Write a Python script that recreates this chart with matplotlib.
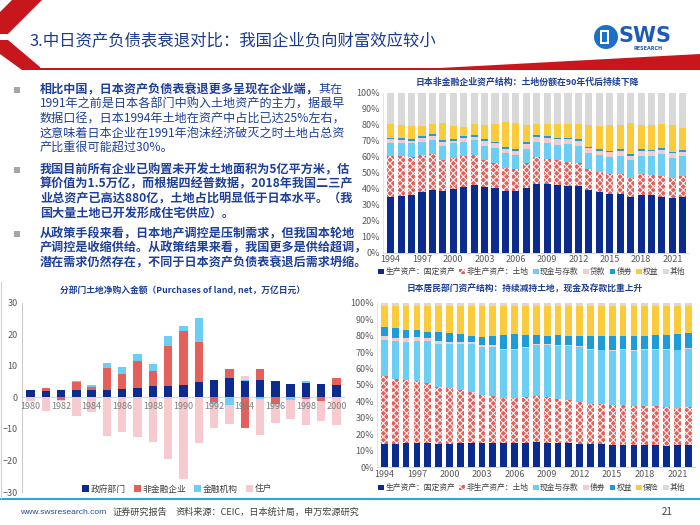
import matplotlib
matplotlib.use('Agg')
import matplotlib.pyplot as plt
from matplotlib.patches import Polygon, Rectangle, Circle
import numpy as np

plt.rcParams['font.family'] = ['Noto Sans CJK SC', 'DejaVu Sans']
plt.rcParams['hatch.linewidth'] = 0.7

# ---------------- data ----------------
# chart 1: net land purchases by sector (trillion yen)
land_years = list(range(1980, 2001))
gov = [2.2, 2.1, 2.4, 2.4, 2.4, 2.4, 2.6, 3.0, 3.5, 3.5, 4.0, 4.8, 5.5, 6.0, 5.3, 5.5, 5.2, 4.3, 4.5, 4.2, 3.8]
nonfin = [0, 1.0, -0.8, 2.6, 0.9, 7.0, 4.9, 8.6, 4.8, 12.7, 17.0, 12.6, -1.4, 3.0, -9.7, 3.6, -2.0, 0, -0.6, -1.0, 2.2]
fininst = [0, 0, 0, 0.3, 0.5, 1.6, 2.2, 2.1, 2.3, 3.2, 1.6, 7.8, -0.6, -2.3, 0.2, -0.5, 0, -0.8, 0.8, 0, 0]
household = [-1.0, -4.2, -0.3, -6.0, -4.8, -12.3, -11.0, -12.6, -14.3, -19.5, -26.0, -14.5, -7.8, -6.3, 1.2, -11.5, -6.0, -6.2, -8.3, -6.5, -8.8]
land_series_names = ['政府部门', '非金融企业', '金融机构', '住户']

# chart 2: Japan non-financial corporate asset structure (%)
struct_years = list(range(1994, 2023))
c_fixed = [34.8, 35.3, 36.0, 38.0, 39.3, 38.3, 39.8, 41.3, 42.2, 40.8, 40.3, 38.8, 38.3, 40.5, 43.2, 42.8, 42.2, 42.0, 41.7, 39.3, 38.0, 36.8, 36.8, 35.0, 36.0, 35.8, 35.0, 34.3, 35.0]
c_land = [25.7, 24.9, 24.0, 23.0, 22.7, 19.7, 19.4, 19.0, 18.6, 17.0, 16.0, 14.4, 14.2, 15.5, 16.8, 16.0, 15.6, 15.0, 14.1, 12.9, 12.2, 12.4, 12.7, 12.0, 13.2, 13.0, 13.2, 12.5, 12.8]
c_cash = [8.0, 8.3, 8.3, 8.5, 8.5, 9.0, 9.1, 9.0, 9.4, 9.2, 9.2, 9.1, 8.8, 8.8, 9.0, 9.7, 9.7, 10.8, 11.0, 10.1, 10.6, 10.6, 10.8, 11.0, 11.3, 11.4, 13.6, 12.4, 12.4]
c_loans = [2.3, 1.9, 1.8, 2.3, 2.3, 2.1, 1.8, 2.2, 2.4, 2.6, 2.8, 2.5, 2.5, 3.0, 3.1, 3.2, 3.4, 3.1, 3.1, 2.9, 3.0, 2.9, 3.3, 2.7, 3.2, 3.1, 2.5, 3.0, 3.0]
c_bonds = [1.2, 1.1, 1.1, 1.2, 1.2, 1.2, 1.1, 1.2, 1.2, 1.2, 1.2, 1.2, 1.2, 1.2, 1.2, 1.1, 1.1, 1.1, 1.1, 1.1, 1.0, 1.0, 1.1, 1.0, 1.0, 1.0, 1.0, 1.0, 1.0]
c_equity = [8.5, 8.5, 8.3, 6.0, 6.3, 10.9, 8.0, 6.1, 6.5, 9.2, 10.8, 15.8, 16.0, 11.0, 7.2, 7.5, 8.5, 8.3, 9.3, 13.5, 14.2, 16.1, 15.3, 19.3, 15.3, 15.7, 15.0, 16.8, 13.6]
c_other = [19.5, 20.0, 20.5, 21.0, 19.7, 18.8, 20.8, 21.2, 19.7, 20.0, 19.7, 18.2, 19.0, 20.0, 19.5, 19.7, 19.5, 19.7, 19.7, 20.2, 21.0, 20.2, 20.0, 19.0, 20.0, 20.0, 19.7, 20.0, 22.2]
corp_names = ['生产资产：固定资产', '非生产资产：土地', '现金与存款', '贷款', '债券', '权益', '其他']

# chart 3: Japan household asset structure (%)
h_fixed = [14.2, 14.2, 14.5, 14.6, 14.5, 14.2, 14.4, 14.6, 14.6, 14.7, 14.9, 14.6, 14.7, 14.9, 15.2, 14.9, 14.7, 14.6, 14.3, 14.1, 14.0, 13.8, 13.7, 13.5, 13.5, 13.4, 13.2, 13.5, 13.8]
h_land = [41.1, 39.6, 38.5, 37.7, 36.5, 34.8, 33.6, 32.4, 31.1, 29.1, 28.4, 27.2, 27.3, 27.9, 28.3, 27.6, 26.6, 26.2, 25.2, 24.2, 24.2, 24.0, 23.9, 23.5, 24.0, 23.8, 23.6, 22.7, 23.0]
h_cash = [22.2, 22.7, 23.3, 24.7, 26.0, 26.0, 26.8, 27.8, 29.3, 29.4, 29.9, 29.4, 29.0, 29.7, 30.7, 31.5, 32.2, 32.7, 33.3, 33.0, 32.8, 33.0, 33.6, 33.5, 33.8, 34.1, 34.7, 34.8, 35.0]
h_bonds = [2.5, 2.3, 2.0, 2.0, 1.5, 1.5, 1.2, 1.2, 1.2, 1.1, 1.0, 0.8, 0.8, 0.8, 0.8, 0.8, 0.7, 0.7, 0.7, 0.7, 0.5, 0.5, 0.4, 0.5, 0.5, 0.5, 0.5, 0.4, 0.4]
h_equity = [5.5, 5.7, 5.4, 4.2, 4.0, 5.8, 5.3, 4.8, 3.6, 4.7, 5.5, 8.3, 9.0, 7.3, 5.3, 5.2, 6.0, 5.8, 6.0, 7.8, 8.3, 8.2, 8.2, 9.0, 8.2, 8.5, 8.5, 9.6, 9.1]
h_insur = [12.7, 13.7, 14.5, 15.0, 15.7, 15.9, 16.9, 17.4, 18.4, 19.2, 18.5, 17.9, 17.4, 17.6, 17.9, 18.2, 18.0, 18.2, 18.7, 18.4, 18.4, 18.7, 18.4, 18.2, 18.2, 17.9, 17.7, 17.2, 16.9]
h_other = [1.8] * 29
hh_names = ['生产资产：固定资产', '非生产资产：土地', '现金与存款', '债券', '权益', '保险', '其他']

# ---------------- styles ----------------
DARK = '#0B2C8E'
RED = '#E5605B'
LBLUE = '#6ACEF5'
PINK = '#F6CACE'
TEAL = '#1C9CD9'
YELLOW = '#FCCB3C'
GRAY = '#D9D9D9'
TXT = '#1E3F9A'
TICK = '#595959'

W, H = 700, 525
fig = plt.figure(figsize=(7, 5.25), dpi=100)

deco = fig.add_axes([0, 0, 1, 1], zorder=0)
deco.set_xlim(0, W); deco.set_ylim(H, 0); deco.axis('off')


def ax_px(l, t, r, b):
    return fig.add_axes([l / W, 1 - b / H, (r - l) / W, (b - t) / H], zorder=2)


# ---------------- header ----------------
hred = '#C8161D'
deco.add_patch(Polygon([(12, 0), (42, 0), (8, 34), (0, 34), (0, 12)], closed=True, color=hred, lw=0))
deco.add_patch(Polygon([(0, 40), (8, 40), (40, 67), (40, 70), (22, 70), (0, 54)], closed=True, color=hred, lw=0))
deco.add_patch(Polygon([(40, 67.5), (700, 67.5), (700, 70), (40, 70)], closed=True, color=hred, lw=0))
deco.add_patch(Polygon([(440, 68), (700, 54), (700, 70), (440, 70)], closed=True, color=hred, lw=0))
deco.text(30, 42, '3.中日资产负债表衰退对比：我国企业负向财富效应较小', fontsize=11.8,
          color='#1A3A8F', va='center', ha='left')
# logo
deco.add_patch(Circle((606, 37), 12, color='#1E6FC8', lw=0))
deco.add_patch(Rectangle((600, 30), 9, 14, color='white', lw=0))
deco.add_patch(Rectangle((602, 32), 5, 10, color='#1E6FC8', lw=0))
deco.text(619, 36, 'SWS', fontsize=15, weight='bold', color='#1E5CB3', va='center', ha='left',
          family='DejaVu Sans')
deco.text(634, 49, 'RESEARCH', fontsize=3.5, weight='bold', color='#1E5CB3', va='center', ha='left',
          family='DejaVu Sans')

# ---------------- body text ----------------
fs = 8.7
r = fig.canvas.get_renderer()
para1 = ['1991年之前是日本各部门中购入土地资产的主力，据最早',
         '数据口径，日本1994年土地在资产中占比已达25%左右，',
         '这意味着日本企业在1991年泡沫经济破灭之时土地占总资',
         '产比重很可能超过30%。']
para2 = ['我国目前所有企业已购置未开发土地面积为5亿平方米，估',
         '算价值为1.5万亿，而根据四经普数据，2018年我国二三产',
         '业总资产已高达880亿，土地占比明显低于日本水平。（我',
         '国大量土地已开发形成住宅供应）。']
para3 = ['从政策手段来看，日本地产调控是压制需求，但我国本轮地',
         '产调控是收缩供给。从政策结果来看，我国更多是供给超调，',
         '潜在需求仍然存在，不同于日本资产负债表衰退后需求坍缩。']
x0 = 40
t = deco.text(x0, 90, '相比中国，日本资产负债表衰退更多呈现在企业端，', fontsize=fs, weight='bold',
              color=TXT, va='center', ha='left')
bb = t.get_window_extent(r)
deco.text(bb.x1, 90, '其在', fontsize=fs, color=TXT, va='center', ha='left')
for i, s in enumerate(para1):
    deco.text(x0, 104.3 + 14.3 * i, s, fontsize=fs, color=TXT, va='center', ha='left')
for i, s in enumerate(para2):
    deco.text(x0, 170 + 14.3 * i, s, fontsize=fs, color=TXT, va='center', ha='left', weight='bold')
for i, s in enumerate(para3):
    deco.text(x0, 234 + 14.3 * i, s, fontsize=fs, color=TXT, va='center', ha='left', weight='bold')
for yb in (90, 170, 234):
    deco.add_patch(Rectangle((14, yb - 3), 6, 6, color='#A6A6A6', lw=0))

# ---------------- footer ----------------
deco.plot([0, 700], [499, 499], color='#2CA6E0', lw=1.5)
deco.plot([1, 1], [282, 498], color='#D0D0D0', lw=0.8)
deco.text(20, 512, 'www.swsresearch.com', fontsize=6.1, color='#1F4E9E', va='center', ha='left',
          family='Liberation Sans')
deco.text(113, 512, '证券研究报告', fontsize=6.6, color='#404040', va='center', ha='left')
deco.text(176, 512, '资料来源：CEIC，日本统计局，申万宏源研究', fontsize=6.6, color='#404040', va='center', ha='left')
deco.text(662, 512, '21', fontsize=7, color='#404040', va='center', ha='left')


def style_pct_axis(ax, xpos, labels_years):
    ax.set_ylim(0, 100)
    ax.set_yticks(np.arange(0, 101, 10))
    ax.set_yticklabels([f'{v}%' for v in range(0, 101, 10)])
    ax.set_xticks(xpos[::3])
    ax.set_xticklabels([str(y) for y in labels_years[::3]])
    ax.tick_params(length=0, labelsize=6.5, colors=TICK, pad=2)
    for s in ['top', 'right']:
        ax.spines[s].set_visible(False)
    ax.spines['left'].set_color('#E0E0E0')
    ax.spines['bottom'].set_color('#D0D0D0')
    ax.spines['left'].set_linewidth(0.6)
    ax.spines['bottom'].set_linewidth(0.6)
    ax.patch.set_alpha(0)


def stacked(ax, xpos, series, colors, names, width):
    bottom = np.zeros(len(xpos))
    handles = []
    for vals, c, nm in zip(series, colors, names):
        vals = np.array(vals, dtype=float)
        if c == 'LAND':
            b = ax.bar(xpos, vals, width, bottom=bottom, facecolor=RED, edgecolor='white',
                       hatch='xxxxx', linewidth=0, label=nm)
        else:
            b = ax.bar(xpos, vals, width, bottom=bottom, color=c, linewidth=0, label=nm)
        handles.append(b)
        bottom += vals
    return handles


leg_kw = dict(frameon=False, handlelength=0.75, handleheight=0.75, handletextpad=0.15,
              columnspacing=0.55, borderpad=0, labelcolor='#404040')

# ---------------- chart: corporate structure ----------------
ax1 = ax_px(383, 92.7, 688, 252.7)
xs = np.arange(len(struct_years))
h1 = stacked(ax1, xs, [c_fixed, c_land, c_cash, c_loans, c_bonds, c_equity, c_other],
             [DARK, 'LAND', LBLUE, PINK, TEAL, YELLOW, GRAY], corp_names, 0.68)
ax1.set_xlim(-0.74, 28.5)
style_pct_axis(ax1, xs, struct_years)
deco.text(527, 82, '日本非金融企业资产结构：土地份额在90年代后持续下降', fontsize=6.4, weight='bold',
          color=TXT, va='center', ha='center')
fig.legend(handles=h1, labels=corp_names, loc='center', bbox_to_anchor=(532 / W, 1 - 272 / H),
           ncol=7, fontsize=5.6, **leg_kw)

# ---------------- chart: household structure ----------------
ax2 = ax_px(376.7, 302.7, 695, 467.3)
h2 = stacked(ax2, xs, [h_fixed, h_land, h_cash, h_bonds, h_equity, h_insur, h_other],
             [DARK, 'LAND', LBLUE, PINK, TEAL, YELLOW, GRAY], hh_names, 0.62)
ax2.set_xlim(-0.7, 28.62)
style_pct_axis(ax2, xs, struct_years)
deco.text(525, 289, '日本居民部门资产结构：持续减持土地，现金及存款比重上升', fontsize=6.3, weight='bold',
          color=TXT, va='center', ha='center')
fig.legend(handles=h2, labels=hh_names, loc='center', bbox_to_anchor=(532 / W, 1 - 488 / H),
           ncol=7, fontsize=5.6, **leg_kw)

# ---------------- chart: land purchases ----------------
ax3 = ax_px(22, 302.7, 345, 492)
xl = np.arange(len(land_years))
pos_b = np.zeros(len(xl))
neg_b = np.zeros(len(xl))
h3 = []
for vals, c, nm in zip([gov, nonfin, fininst, household], [DARK, RED, LBLUE, PINK], land_series_names):
    vals = np.array(vals, dtype=float)
    bottoms = np.where(vals >= 0, pos_b, neg_b)
    b = ax3.bar(xl, vals, 0.55, bottom=bottoms, color=c, linewidth=0, label=nm, zorder=2)
    h3.append(b)
    pos_b += np.where(vals >= 0, vals, 0)
    neg_b += np.where(vals < 0, vals, 0)
ax3.set_xlim(-0.55, 20.55)
ax3.set_ylim(-30, 30)
ax3.set_yticks(np.arange(-30, 31, 10))
ax3.set_xticks([])
ax3.axhline(0, color='#D9D9D9', lw=0.8, zorder=1)
for s in ['top', 'right', 'bottom']:
    ax3.spines[s].set_visible(False)
ax3.spines['left'].set_color('#BFBFBF')
ax3.spines['left'].set_linewidth(0.6)
ax3.tick_params(length=0, labelsize=6.5, colors=TICK, pad=3)
ax3.patch.set_alpha(0)
for i, yv in enumerate(land_years):
    if yv % 2 == 0:
        ax3.text(xl[i], -3.0, str(yv), fontsize=6.5, color='#7F7F7F', ha='center', va='center', zorder=3)
deco.text(183, 290, '分部门土地净购入金额（Purchases of land, net，万亿日元）', fontsize=6.3, weight='bold',
          color=TXT, va='center', ha='center')
fig.legend(handles=h3, labels=land_series_names, loc='center', bbox_to_anchor=(177 / W, 1 - 489 / H),
           ncol=4, fontsize=6.3, frameon=False, handlelength=0.8, handleheight=0.8,
           handletextpad=0.2, columnspacing=0.9, borderpad=0, labelcolor='#404040')

fig.savefig('out.png', dpi=100)
